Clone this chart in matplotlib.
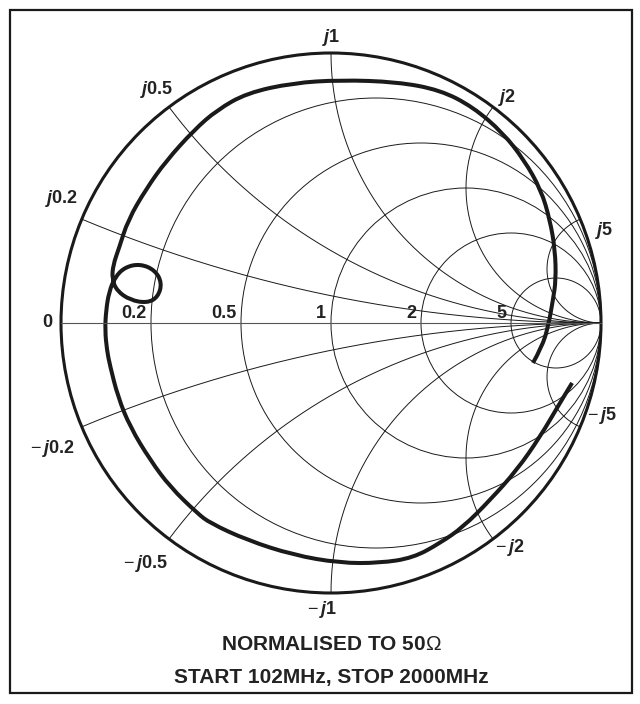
import numpy as np
import matplotlib.pyplot as plt
from matplotlib.patches import Circle, Rectangle, PathPatch
from matplotlib.path import Path

plt.rcParams['font.family'] = ['Liberation Sans', 'DejaVu Sans']
plt.rcParams['mathtext.fontset'] = 'custom'
plt.rcParams['mathtext.rm'] = 'Liberation Sans'
plt.rcParams['mathtext.it'] = 'Liberation Sans:italic:bold'
plt.rcParams['mathtext.bf'] = 'Liberation Sans:bold'

# Smith chart grid values
r_circles = [0.2, 0.5, 1, 2, 5]
r_labels = ['0.2', '0.5', '1', '2', '5']
x_arcs = [0.2, 0.5, 1, 2, 5]
x_labels = ['0.2', '0.5', '1', '2', '5']

gamma_re = [0.748, 0.781, 0.804, 0.822, 0.833, 0.830, 0.811, 0.778, 0.715, 0.637,
            0.526, 0.404, 0.244, 0.033, -0.141, -0.311, -0.422, -0.507, -0.611, -0.685,
            -0.752, -0.785, -0.807, -0.811, -0.793, -0.744, -0.681, -0.641, -0.626, -0.652,
            -0.707, -0.763, -0.800, -0.822, -0.833, -0.837, -0.830, -0.819, -0.789, -0.744,
            -0.670, -0.596, -0.496, -0.448, -0.311, -0.141, 0.033, 0.181, 0.304, 0.404,
            0.489, 0.589, 0.689, 0.774, 0.848, 0.893]
gamma_im = [-0.148, -0.089, -0.015, 0.085, 0.159, 0.270, 0.381, 0.493, 0.604, 0.704,
            0.800, 0.863, 0.893, 0.900, 0.889, 0.852, 0.789, 0.715, 0.600, 0.496,
            0.381, 0.278, 0.215, 0.163, 0.119, 0.085, 0.074, 0.096, 0.148, 0.196,
            0.219, 0.207, 0.170, 0.115, 0.048, -0.026, -0.100, -0.156, -0.274, -0.385,
            -0.507, -0.607, -0.704, -0.741, -0.804, -0.859, -0.889, -0.889, -0.870, -0.815,
            -0.756, -0.656, -0.544, -0.422, -0.296, -0.222]

# layout: chart centre and radius in pixels
CX, CY, R = 331, 323, 270
W, H = 640, 704


def px(x, y):
    return (x - CX) / R, (CY - y) / R


fig = plt.figure(figsize=(W / 100, H / 100), dpi=100)
ax = fig.add_axes([0, 0, 1, 1])
ax.set_xlim(-CX / R, (W - CX) / R)
ax.set_ylim((CY - H) / R, CY / R)
ax.set_aspect('equal')
ax.axis('off')

ink = '#1a1a1a'
thin = 0.7

# frame
x0, y0 = px(10, 693)
ax.add_patch(Rectangle((x0, y0), 622 / R, 683 / R, fill=False, lw=1.6, ec=ink))

# resistance circles
for r in r_circles:
    ax.add_patch(Circle((r / (1 + r), 0), 1 / (1 + r), fill=False, lw=thin, ec=ink))

# reactance arcs
rr = np.concatenate([[0], np.logspace(-3, 4, 900)])
for xv in x_arcs:
    for s in (1, -1):
        z = rr + 1j * s * xv
        g = (z - 1) / (z + 1)
        ax.plot(g.real, g.imag, lw=thin, color=ink)

# real axis
ax.plot([-1, 1], [0, 0], lw=0.8, color='#555555')

# outer circle
ax.add_patch(Circle((0, 0), 1, fill=False, lw=2.2, ec=ink))

# trace, drawn as a smoothed path through the read points
pts = np.column_stack([gamma_re, gamma_im])
verts = [pts[0]]
codes = [Path.MOVETO]
for i in range(1, len(pts) - 1):
    verts += [pts[i], (pts[i] + pts[i + 1]) / 2]
    codes += [Path.CURVE3, Path.CURVE3]
verts.append(pts[-1])
codes.append(Path.LINETO)
ax.add_patch(PathPatch(Path(verts, codes), fill=False, lw=2.9, ec=ink,
                       joinstyle='round', capstyle='butt'))

# resistance labels
txt = dict(color='#222222', fontsize=13, fontweight='bold')
ax.text(*px(47, 322), '0', ha='center', va='center', **txt)
for r, lab in zip(r_circles, r_labels):
    g0 = (r - 1) / (r + 1)
    ax.text(g0 - 5 / R, 5 / R, lab, ha='right', va='baseline', **txt)

# reactance labels
pos_plus = [(62, 198), (157, 89), (331, 38), (507, 97), (604, 230)]
pos_minus = [(52, 448), (145, 563), (322, 610), (510, 547), (602, 415)]
for lab, pp, pm in zip(x_labels, pos_plus, pos_minus):
    ax.text(*px(*pp), r'$\mathit{j}\mathbf{%s}$' % lab, ha='center', va='center',
            color='#222222', fontsize=13)
    ax.text(*px(*pm), r'$-\,\mathit{j}\mathbf{%s}$' % lab, ha='center', va='center',
            color='#222222', fontsize=13)

# captions
ax.text(*px(331, 645), r'NORMALISED TO 50$\Omega$', ha='center', va='center',
        color='#222222', fontsize=15, fontweight='bold')
ax.text(*px(331, 677), 'START 102MHz, STOP 2000MHz', ha='center', va='center',
        color='#222222', fontsize=15, fontweight='bold')

fig.savefig('out.png', dpi=100)
